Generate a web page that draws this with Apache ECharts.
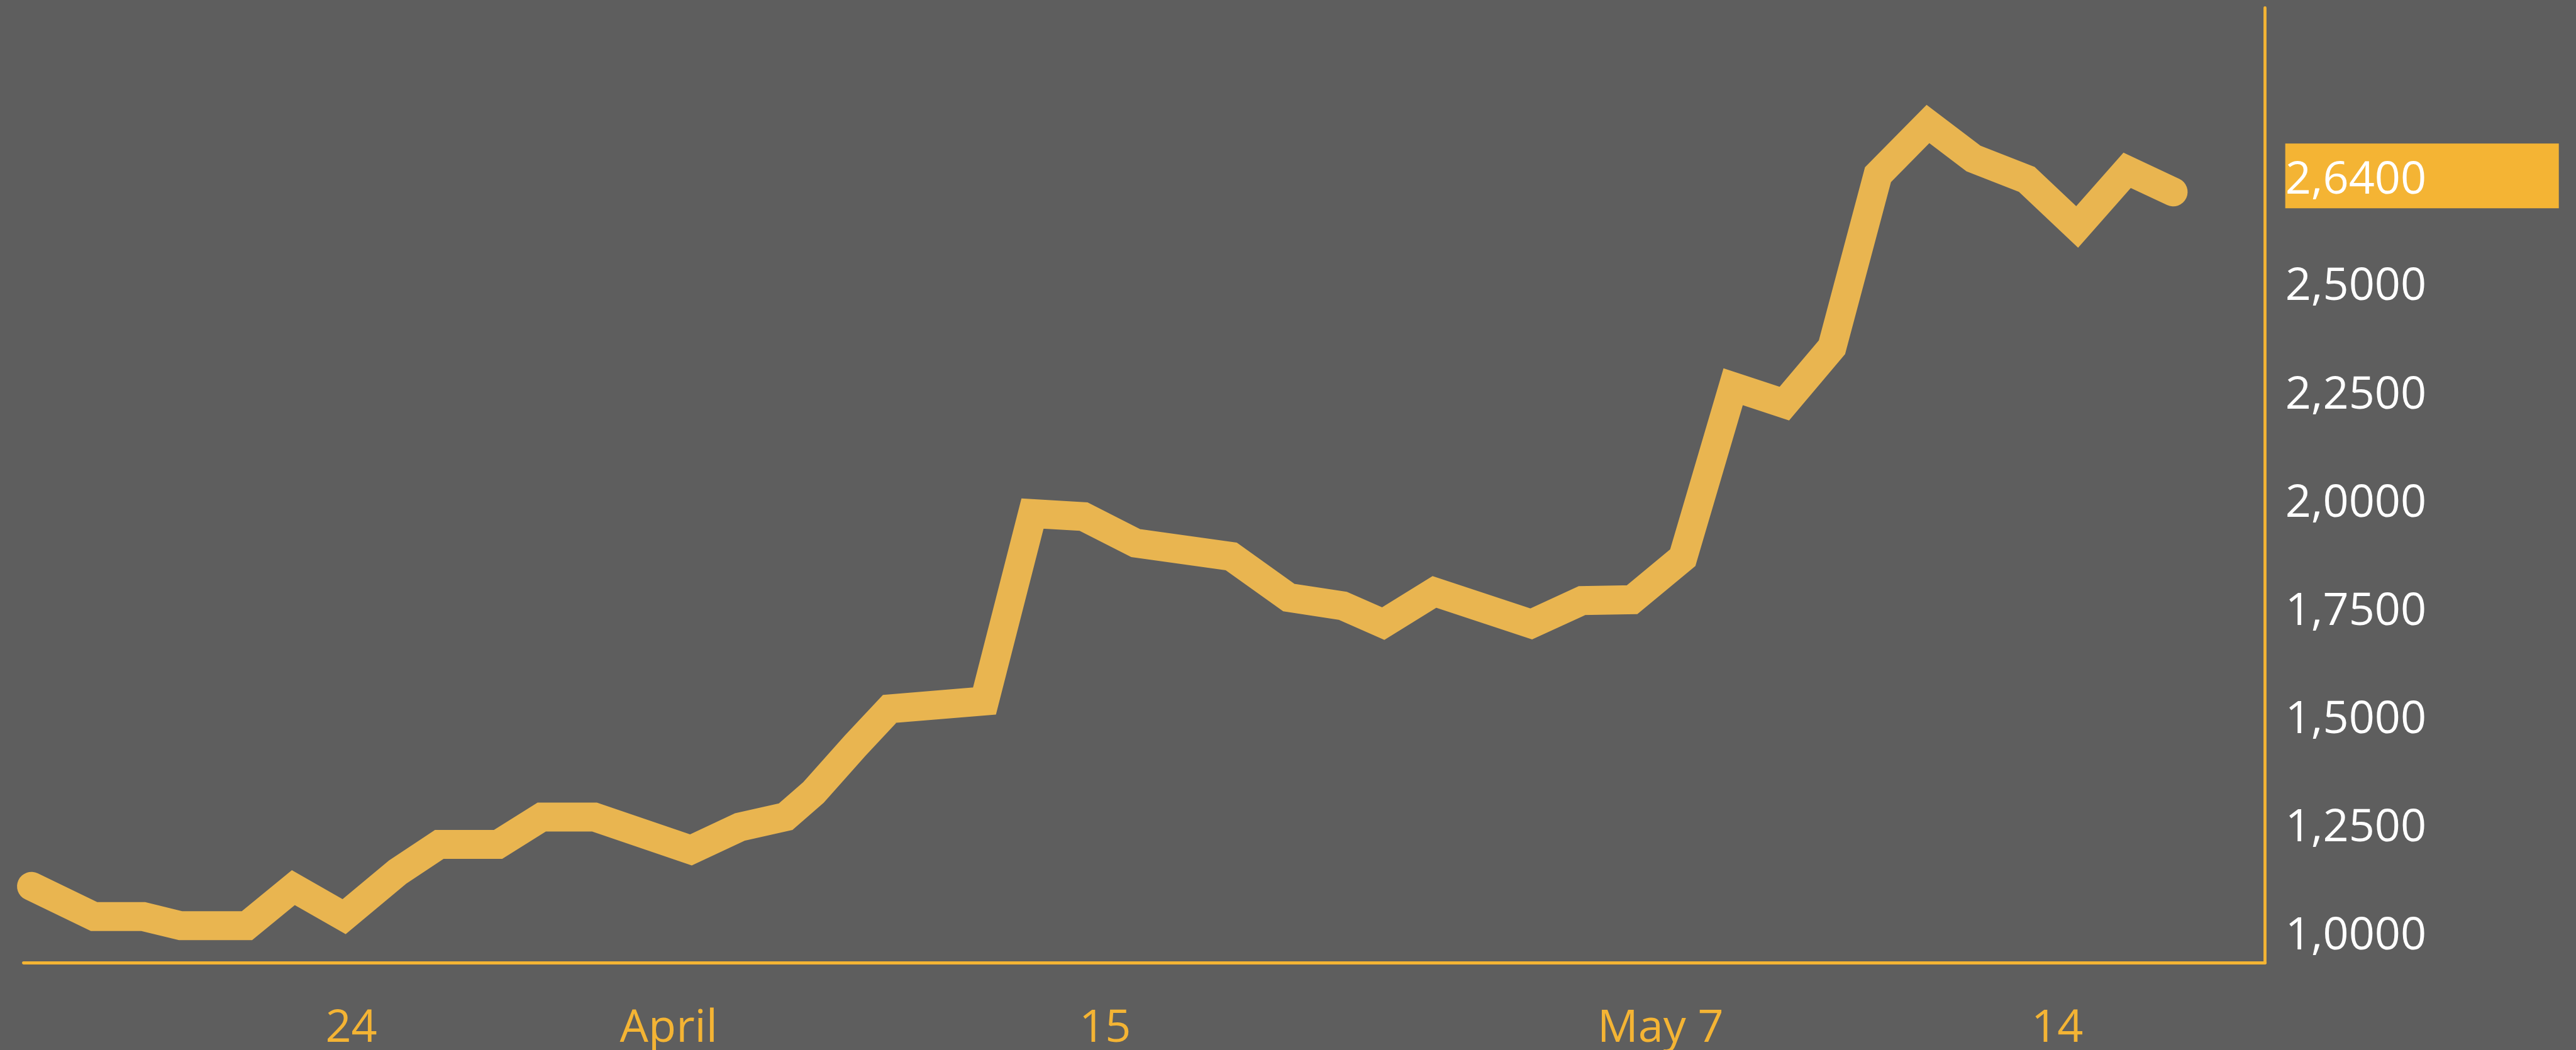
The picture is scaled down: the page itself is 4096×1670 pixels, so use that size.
<!DOCTYPE html>
<html>
<head>
<meta charset="utf-8">
<title>Price line</title>
<script src="https://cdn.jsdelivr.net/npm/echarts@6.0.0/dist/echarts.min.js"></script>
<style>
  html, body { margin: 0; padding: 0; background: #5e5e5e; }
  #chart { width: 4096px; height: 1670px; }
</style>
</head>
<body>
<div id="chart"></div>
<script>
// positions of the line's points along the time axis (session index)
const xPositions = [
  -0.06, 1.52, 2.76, 3.70, 5.37, 6.54, 7.82, 9.17, 10.22, 11.70,
  12.80, 14.13, 16.56, 17.79, 18.95, 19.65, 20.71, 21.57, 23.96, 25.17,
  26.46, 27.77, 30.18, 31.63, 32.99, 34.01, 35.30, 37.74, 39.02, 40.28,
  41.56, 42.83, 44.12, 45.32, 46.48, 47.74, 48.89, 50.23, 51.50, 52.76,
  53.92
];
const prices = [
  1.109, 1.039, 1.039, 1.018, 1.018, 1.106, 1.039, 1.142, 1.206, 1.206,
  1.269, 1.269, 1.193, 1.246, 1.270, 1.326, 1.435, 1.519, 1.537, 1.970,
  1.963, 1.902, 1.871, 1.776, 1.757, 1.716, 1.789, 1.715, 1.769, 1.771,
  1.868, 2.263, 2.224, 2.354, 2.753, 2.870, 2.790, 2.742, 2.632, 2.763,
  2.713
];

// x axis labels and where they sit
const dateLabels = ['24', 'April', '15', 'May 7', '14'];
const dateLabelPositions = [8, 16, 27, 41, 51];

// y axis ticks, the top one is replaced by the highlighted price
const priceTicks = [1, 1.25, 1.5, 1.75, 2, 2.25, 2.5, 2.75];
const highlightTick = 2.75;
const highlightLabel = '2,6400';

const xMin = -0.261, xMax = 56.238;
const yMin = 0.9322, yMax = 3.1382;

const orange = '#f4b434';
const lineColor = '#e9b550';

const chart = echarts.init(document.getElementById('chart'), null, { renderer: 'canvas' });

const option = {
  backgroundColor: '#5e5e5e',
  animation: false,
  grid: {
    left: 37.4,
    right: 494.3,
    top: 12.5,
    bottom: 138.6,
    containLabel: false,
    outerBoundsMode: 'none'
  },
  xAxis: {
    type: 'value',
    min: xMin,
    max: xMax,
    axisLine: { show: true, onZero: false, lineStyle: { color: orange, width: 4.8 } },
    axisTick: { show: false },
    splitLine: { show: false },
    axisLabel: {
      customValues: dateLabelPositions,
      formatter: function (v) {
        const i = dateLabelPositions.indexOf(v);
        return i >= 0 ? dateLabels[i] : '';
      },
      color: orange,
      fontFamily: 'Open Sans',
      fontSize: 72,
      margin: 69
    }
  },
  yAxis: {
    type: 'value',
    position: 'right',
    min: yMin,
    max: yMax,
    axisLine: { show: true, onZero: false, lineStyle: { color: orange, width: 4.8 } },
    axisTick: { show: false },
    splitLine: { show: false },
    axisLabel: {
      customValues: priceTicks,
      formatter: function (v) {
        if (Math.abs(v - highlightTick) < 1e-6) return '{hl|' + highlightLabel + '}';
        return '{n|' + v.toFixed(4).replace('.', ',') + '}';
      },
      color: '#ffffff',
      fontFamily: 'Open Sans',
      fontSize: 72,
      margin: 32,
      rich: {
        n: {
          color: '#ffffff',
          fontFamily: 'Open Sans',
          fontSize: 72,
          padding: [10, 0, 0, 0]
        },
        hl: {
          color: '#ffffff',
          fontFamily: 'Open Sans',
          fontSize: 72,
          backgroundColor: orange,
          width: 435,
          height: 87,
          lineHeight: 87,
          padding: [16, 0, 0, 0],
          align: 'left'
        }
      }
    }
  },
  series: [
    {
      type: 'line',
      data: xPositions.map((x, i) => [x, prices[i]]),
      showSymbol: false,
      symbol: 'none',
      lineStyle: {
        color: lineColor,
        width: 46,
        cap: 'round',
        join: 'miter'
      }
    }
  ]
};

chart.setOption(option);
</script>
</body>
</html>
